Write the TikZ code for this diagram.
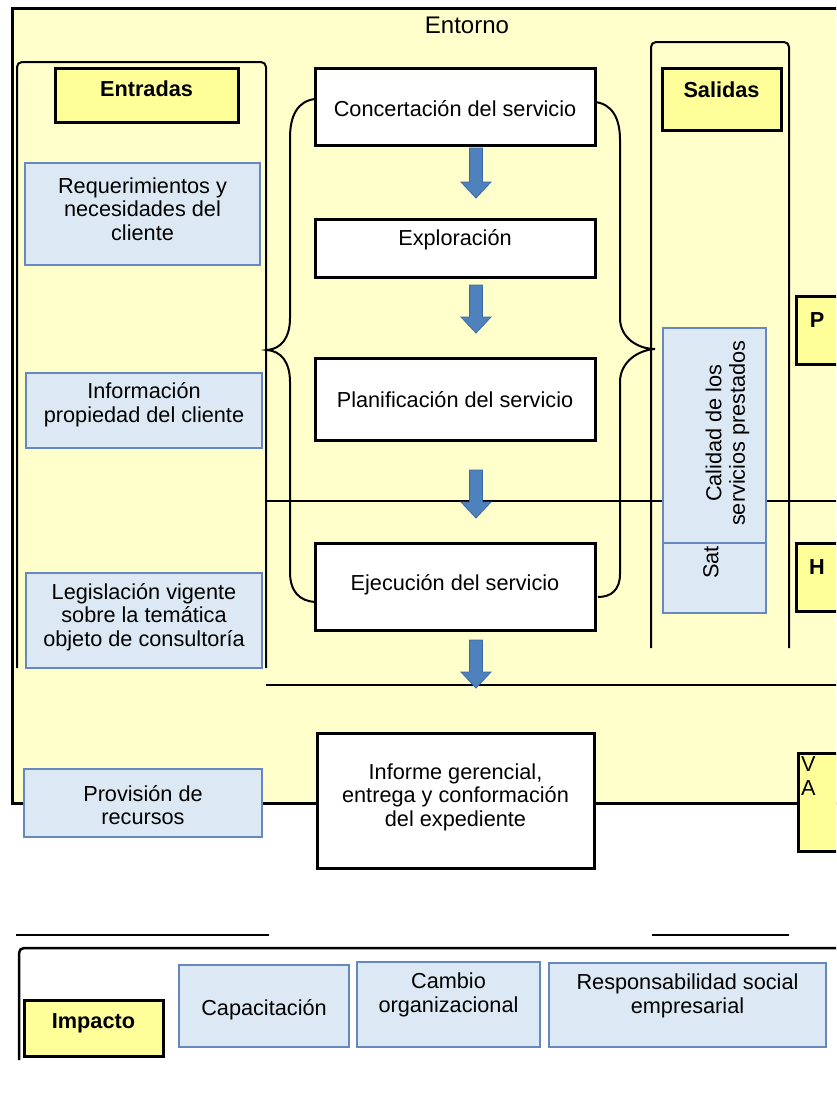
\documentclass[tikz,border=0pt]{standalone}
\usepackage{fontspec}
\setmainfont{Liberation Sans}
\usetikzlibrary{calc}
\definecolor{envy}{HTML}{FFFFCC}
\definecolor{laby}{HTML}{FFFF99}
\definecolor{bfill}{HTML}{DCE9F5}
\definecolor{bedge}{HTML}{6688BE}
\definecolor{afill}{HTML}{4F81BD}
\definecolor{aedge}{HTML}{3C6AA6}
\tikzset{
 txt/.style={font=\fontsize{21.7}{23.5}\selectfont, align=center, inner sep=0pt, text=black},
 btxt/.style={font=\fontsize{21.7}{23.5}\selectfont\bfseries, align=center, inner sep=0pt, text=black},
 procbox/.style={draw=black, line width=3pt, fill=white, inner sep=0pt},
 bluebox/.style={draw=bedge, line width=2.5pt, fill=bfill, inner sep=0pt},
 labbox/.style={draw=black, line width=3pt, fill=laby, inner sep=0pt},
 frameline/.style={line width=3pt, black},
 thinline/.style={line width=2pt, black},
 bracestyle/.style={line width=2pt, black},
 barrow/.style={fill=afill, draw=aedge, line width=0.8pt},
}
\newcommand\blockarrow[3]{\filldraw[barrow] (#1-6.5,#2) -- (#1+6.5,#2) -- (#1+6.5,#3-16) -- (#1+15,#3-16) -- (#1,#3) -- (#1-15,#3-16) -- (#1-6.5,#3-16) -- cycle;}
\begin{document}
\begin{tikzpicture}[x=1pt,y=-1pt]
\useasboundingbox (0,0) rectangle (836,1098);
\clip (0,0) rectangle (836,1098);
\fill[white] (0,0) rectangle (836,1098);
% environment
\fill[envy] (12,8) rectangle (845,803);
\draw[frameline] (845,8) -- (12,8) -- (12,803) -- (845,803);
\node[font=\fontsize{24}{28}\selectfont, anchor=base, inner sep=0pt] (ent) at (467,33) {Entorno};
% columns
\draw[thinline, rounded corners=5pt] (17,668) -- (17,62) -- (266,62) -- (266,668);
\draw[thinline, rounded corners=5pt] (651,648) -- (651,42) -- (789,42) -- (789,648);
% horizontal lines
\draw[thinline] (266,501) -- (845,501);
\draw[thinline] (266,685) -- (845,685);
% braces
\draw[bracestyle] (315,99) .. controls (298,101) and (290,115) .. (290,138) -- (290,318)
  .. controls (290,338) and (281,349) .. (267,350)
  .. controls (281,351) and (290,362) .. (290,382) -- (290,572)
  .. controls (290,592) and (300,601) .. (315,602);
\draw[bracestyle] (595,102) .. controls (612,104) and (620,118) .. (620,140) -- (620,318)
  .. controls (620,338) and (638,349) .. (655,349)
  .. controls (638,350) and (620,362) .. (620,382) -- (620,574)
  .. controls (620,590) and (611,597) .. (598,597);
% Entradas
\node[labbox, minimum width=183pt, minimum height=54pt] (entr) at (146.5,95) {};
\node[btxt] (entrt) at (146.5,89) {Entradas};
\node[bluebox, minimum width=235pt, minimum height=102pt] (req) at (142.5,214) {};
\node[txt] (reqt) at (142.5,209) {Requerimientos y\\necesidades del\\cliente};
\node[bluebox, minimum width=236pt, minimum height=75pt] (inf) at (144,410.5) {};
\node[txt] (inft) at (144,405) {Información\\propiedad del cliente};
\node[bluebox, minimum width=236pt, minimum height=95pt] (leg) at (144,620.5) {};
\node[txt] (legt) at (144,617) {Legislación vigente\\sobre la temática\\objeto de consultoría};
\node[bluebox, minimum width=238pt, minimum height=68pt] (prov) at (143,803) {};
\node[txt] (provt) at (143,805) {Provisión de\\recursos};
% Salidas
\node[labbox, minimum width=119pt, minimum height=62pt] (sal) at (721.5,99) {};
\node[btxt] (salt) at (721.5,90) {Salidas};
% process
\node[procbox, minimum width=280pt, minimum height=77pt] (conc) at (455,106.5) {};
\node[txt] (conct) at (455,109) {Concertación del servicio};
\node[procbox, minimum width=280pt, minimum height=58pt] (expl) at (455,248) {};
\node[txt] (explt) at (455,240) {Exploración};
\node[procbox, minimum width=280pt, minimum height=82pt] (plan) at (455,399) {};
\node[txt] (plant) at (455,400) {Planificación del servicio};
\node[procbox, minimum width=280pt, minimum height=87pt] (ejec) at (455,586.5) {};
\node[txt] (eject) at (455,585) {Ejecución del servicio};
\node[procbox, minimum width=277pt, minimum height=135pt] (infg) at (455.5,800.5) {};
\node[txt] (infgt) at (455.5,797) {Informe gerencial,\\entrega y conformación\\del expediente};
% arrows
\blockarrow{476}{148}{198}
\blockarrow{476}{285}{333}
\blockarrow{476}{470}{518}
\blockarrow{476}{640}{688}
% outputs
\node[bluebox, minimum width=103pt, minimum height=285pt] (sat) at (714.5,470.5) {};
\node[txt, rotate=90, anchor=west] (satt) at (711,579) {Sat};
\node[bluebox, minimum width=103pt, minimum height=215pt] (cal) at (714.5,435.5) {};
\node[txt, rotate=90] (calt) at (727.5,433) {Calidad de los\\servicios prestados};
% P H VA
\node[labbox, minimum width=70pt, minimum height=68pt, anchor=north west] (pbox) at (795,295) {};
\node[btxt] (pt) at (817,320) {P};
\node[labbox, minimum width=70pt, minimum height=68pt, anchor=north west] (hbox) at (795,542) {};
\node[btxt] (ht) at (817,567) {H};
\node[labbox, minimum width=70pt, minimum height=98pt, anchor=north west] (vabox) at (797,752) {};
\node[txt, align=left, anchor=west] (vat) at (801,776) {V\\A};
% impact
\draw[thinline] (16,935) -- (269,935);
\draw[thinline] (652,935) -- (789,935);
\draw[line width=2.5pt, rounded corners=5pt] (19,1060) -- (19,948) -- (845,948);
\node[labbox, minimum width=139pt, minimum height=56pt] (imp) at (93.5,1028) {};
\node[btxt] (impt) at (93.5,1023) {Impacto};
\node[bluebox, minimum width=170pt, minimum height=82pt] (cap) at (264,1006) {};
\node[txt] (capt) at (264,1010) {Capacitación};
\node[bluebox, minimum width=183pt, minimum height=85pt] (camb) at (448.5,1004.5) {};
\node[txt] (cambt) at (448.5,995) {Cambio\\organizacional};
\node[bluebox, minimum width=277pt, minimum height=84pt] (resp) at (687.5,1005) {};
\node[txt] (respt) at (687.5,996) {Responsabilidad social\\empresarial};
\end{tikzpicture}
\end{document}
